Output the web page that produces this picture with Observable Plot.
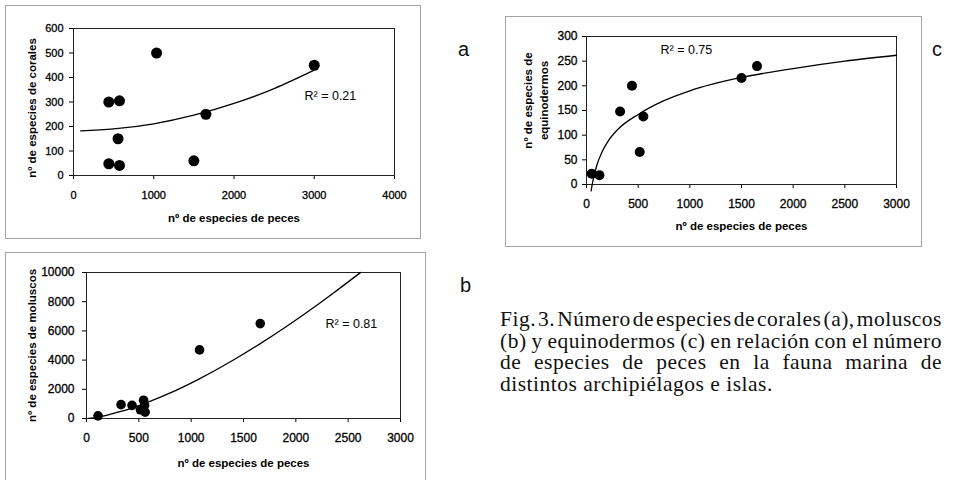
<!DOCTYPE html>
<html>
<head>
<meta charset="utf-8">
<script src="https://cdn.jsdelivr.net/npm/d3@7"></script>
<script src="https://cdn.jsdelivr.net/npm/@observablehq/plot@0.6"></script>
<style>
  html, body { margin: 0; padding: 0; background: #fff; }
  #page { position: relative; width: 972px; height: 480px; overflow: hidden; background: #fff; }
  .panel { position: absolute; }
  .panel .box { position: absolute; inset: 0; border: 1.5px solid #a5a5a5; box-sizing: border-box; pointer-events: none; }
  .panel svg { position: absolute; left: 0; top: 0; overflow: visible; }
  .panel svg [aria-label$="tick label"] text { stroke: #000; stroke-width: 0.3px; }
  .tag { position: absolute; font-family: 'Liberation Sans', Arial, sans-serif; font-size: 20px; line-height: 1; color: #111; }
  #caption { position: absolute; left: 500px; top: 309px; width: 442px;
             font-family: 'Liberation Serif', 'Times New Roman', serif; font-size: 21.5px; line-height: 21.5px;
             letter-spacing: 0.5px; color: #111; }
  #caption .ln { text-align: justify; text-align-last: justify; }
  #caption .ln.tight { word-spacing: -0.22em; }
  #caption .ln.snug { word-spacing: -0.1em; }
  #caption .ln.last { text-align-last: left; }
</style>
</head>
<body>
<div id="page">
  <div class="panel" id="panelA"><div class="box"></div></div>
  <div class="panel" id="panelB"><div class="box"></div></div>
  <div class="panel" id="panelC"><div class="box"></div></div>
  <div class="tag" style="left:458px;top:39px">a</div>
  <div class="tag" style="left:460px;top:275px">b</div>
  <div class="tag" style="left:932px;top:39px">c</div>
  <div id="caption">
    <div class="ln tight">Fig. 3. Número de especies de corales (a), moluscos</div>
    <div class="ln snug">(b) y equinodermos (c) en relación con el número</div>
    <div class="ln">de especies de peces en la fauna marina de</div>
    <div class="ln last">distintos archipiélagos e islas.</div>
  </div>
</div>
<script>
// (a) corales frente a peces
const pecesA   = [440, 573, 555, 440, 573, 1035, 1500, 1650, 3000];
const coralesA = [300, 305, 150, 48, 41, 500, 60, 250, 450];
const trendAx  = [90, 500, 1000, 1500, 2000, 2500, 3000];
const trendAy  = [182, 190, 211, 246, 294, 355, 430];

// (b) moluscos frente a peces
const pecesB    = [110, 330, 435, 545, 555, 515, 560, 1080, 1660];
const moluscosB = [180, 950, 900, 1250, 900, 600, 430, 4700, 6500];
const trendBx   = [20, 100, 200, 300, 450, 600, 800, 1060, 1400, 1660, 1900, 2170, 2360, 2618];
const trendBy   = [8, 80, 230, 430, 750, 1150, 1750, 2650, 3990, 5130, 6250, 7600, 8600, 10000];

// (c) equinodermos frente a peces
const pecesC  = [50, 125, 325, 440, 550, 515, 1500, 1650];
const equinoC = [22, 19, 148, 200, 138, 66, 216, 240];
const trendCx = [45, 55, 100, 150, 200, 300, 500, 750, 1000, 1500, 2000, 2500, 3000];
const trendCy = [-13, 0, 39, 66, 85, 111, 142, 170, 190, 217, 235, 250, 262];

// axis ticks
const xTicksA  = [0, 1000, 2000, 3000, 4000];
const yTicksA  = [0, 100, 200, 300, 400, 500, 600];
const xTicksBC = [0, 500, 1000, 1500, 2000, 2500, 3000];
const yTicksB  = [0, 2000, 4000, 6000, 8000, 10000];
const yTicksC  = [0, 50, 100, 150, 200, 250, 300];

// texts
const xTitle  = "nº de especies de peces";
const yTitleA = "nº de especies de corales";
const yTitleB = "nº de especies de moluscos";
const yTitleC = "nº de especies de\nequinodermos";
const r2A = "R² = 0.21";
const r2B = "R² = 0.81";
const r2C = "R² = 0.75";

const zip = (xs, ys) => xs.map((x, i) => ({x, y: ys[i]}));
const sans = "'Liberation Sans', Arial, Helvetica, sans-serif";

function panel(el, cfg) {
  const node = document.getElementById(el);
  Object.assign(node.style, {left: cfg.left + "px", top: cfg.top + "px", width: cfg.width + "px", height: cfg.height + "px"});
  const chart = Plot.plot({
    width: cfg.width,
    height: cfg.height,
    marginLeft: cfg.m[0], marginTop: cfg.m[1], marginRight: cfg.m[2], marginBottom: cfg.m[3],
    style: {fontFamily: sans, fontSize: cfg.tickFont + "px", color: "#000", background: "transparent", overflow: "visible"},
    x: {domain: cfg.xDomain, ticks: cfg.xTicks, tickFormat: "d", tickSize: 4, tickPadding: cfg.xPad, label: null},
    y: {domain: cfg.yDomain, ticks: cfg.yTicks, tickFormat: "d", tickSize: 4, tickPadding: cfg.yPad, label: null},
    marks: [
      Plot.frame({stroke: "#222", strokeWidth: 1}),
      Plot.line(cfg.trend, {x: "x", y: "y", curve: "monotone-x", stroke: "#000", strokeWidth: 1.3}),
      Plot.dot(cfg.points, {x: "x", y: "y", r: cfg.r, fill: "#000", stroke: "none"}),
      Plot.text([cfg.r2], {text: d => d, frameAnchor: "top-left", textAnchor: "start", lineAnchor: "middle",
                           dx: cfg.r2Pos[0], dy: cfg.r2Pos[1], fontSize: 12.5, fill: "#000"}),
      Plot.text([xTitle], {text: d => d, frameAnchor: "bottom", textAnchor: "middle", lineAnchor: "middle",
                           dy: cfg.xTitleDy, fontWeight: "bold", fontSize: 11.5, fill: "#000"}),
      Plot.text([cfg.yTitle], {text: d => d, frameAnchor: "left", textAnchor: "middle", lineAnchor: "middle",
                               rotate: -90, dx: cfg.yTitlePos[0], dy: cfg.yTitlePos[1],
                               fontWeight: "bold", fontSize: 11.5, lineHeight: 1.39, fill: "#000"})
    ]
  });
  node.insertBefore(chart, node.firstChild);
}

panel("panelA", {
  left: 5, top: 5, width: 416, height: 234, m: [68, 23, 27, 64],
  xDomain: [0, 4000], yDomain: [0, 600], xTicks: xTicksA, yTicks: yTicksA,
  tickFont: 11, xPad: 12, yPad: 6,
  points: zip(pecesA, coralesA), trend: zip(trendAx, trendAy), r: 5.5,
  r2: r2A, r2Pos: [231, 67], xTitleDy: 43, yTitle: yTitleA, yTitlePos: [-43, 6]
});

panel("panelB", {
  left: 5, top: 252, width: 421, height: 232, m: [81, 20, 26, 66],
  xDomain: [0, 3000], yDomain: [0, 10000], xTicks: xTicksBC, yTicks: yTicksB,
  tickFont: 12, xPad: 11, yPad: 8,
  points: zip(pecesB, moluscosB), trend: zip(trendBx, trendBy), r: 4.8,
  r2: r2B, r2Pos: [239, 51], xTitleDy: 45, yTitle: yTitleB, yTitlePos: [-56, 0]
});

panel("panelC", {
  left: 505, top: 16, width: 417, height: 231, m: [81, 20, 26, 63],
  xDomain: [0, 3000], yDomain: [0, 300], xTicks: xTicksBC, yTicks: yTicksC,
  tickFont: 12, xPad: 11, yPad: 5,
  points: zip(pecesC, equinoC), trend: zip(trendCx, trendCy), r: 5,
  r2: r2C, r2Pos: [74, 13], xTitleDy: 42, yTitle: yTitleC, yTitlePos: [-52, -10]
});
</script>
</body>
</html>
